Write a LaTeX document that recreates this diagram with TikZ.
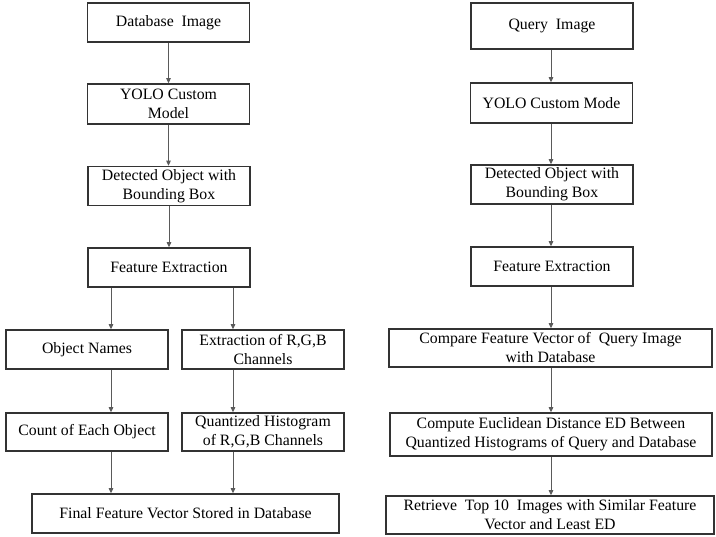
\documentclass[tikz,border=0pt]{standalone}
\usepackage{fontspec}
\setmainfont{Liberation Serif}
\usetikzlibrary{arrows.meta,calc,positioning}
\definecolor{fcInk}{HTML}{333333}
\definecolor{fcLine}{HTML}{5A5A5A}
\tikzset{
 flowchart/.style={font=\fontsize{15.8}{19}\selectfont,line join=miter,text=black},
 box/.style={rectangle,draw=fcInk,line width=1.6pt,fill=white,align=center,inner sep=2pt,
   minimum width=162pt,minimum height=39pt},
 widebox/.style={box,minimum width=323pt},
 link/.style={draw=fcLine,line width=.9pt,-{Triangle[length=5pt,width=4.5pt]}}
}

\begin{document}
\begin{tikzpicture}[flowchart,x=1pt,y=-1pt]
 \useasboundingbox (0,0) rectangle (716,537);
 \begin{scope}
  \node[box] (dbImg) at (168.5,22.5) {Database~ Image};
  \node[box,minimum height=40pt] (dbYolo) at (168.5,104) {YOLO Custom\\Model};
  \node[box] (dbDet) at (169,186) {Detected Object with\\Bounding Box};
  \node[box] (dbFeat) at (169,267.5) {Feature Extraction};
  \node[box] (dbNames) at (87,349.5) {Object Names};
  \node[box] (dbRgb) at (263,349.5) {Extraction of R,G,B\\Channels};
  \node[box,minimum height=38pt] (dbCount) at (87,432) {Count of Each Object};
  \node[box,minimum height=38pt] (dbHist) at (263,432) {Quantized Histogram\\of R,G,B Channels};
  \node[box,minimum width=307pt] (dbFinal) at (185.5,513.5) {Final Feature Vector Stored in Database};
  \coordinate (laneL) at (111,0);
  \coordinate (laneR) at (233,0);
  \draw[link] (dbImg.south) -- (dbImg.south |- dbYolo.north);
  \draw[link] (dbYolo.south) -- (dbYolo.south |- dbDet.north);
  \draw[link] (dbDet.south) -- (dbDet.south |- dbFeat.north);
  \draw[link] (dbFeat.south -| laneL) -- (dbNames.north -| laneL);
  \draw[link] (dbFeat.south -| laneR) -- (dbRgb.north -| laneR);
  \draw[link] (dbNames.south -| laneL) -- (dbCount.north -| laneL);
  \draw[link] (dbRgb.south -| laneR) -- (dbHist.north -| laneR);
  \draw[link] (dbCount.south -| laneL) -- (dbFinal.north -| laneL);
  \draw[link] (dbHist.south -| laneR) -- (dbFinal.north -| laneR);
 \end{scope}
 \begin{scope}
  \node[box,minimum height=46pt] (qImg) at (552,26) {Query~ Image};
  \node[box,minimum height=40pt] (qYolo) at (551.5,103) {YOLO Custom Mode};
  \node[box] (qDet) at (552,184.5) {Detected Object with\\Bounding Box};
  \node[box] (qFeat) at (552,266.5) {Feature Extraction};
  \node[widebox,minimum height=38pt] (qComp) at (550.5,348) {Compare Feature Vector of~ Query Image\\with Database};
  \node[widebox,minimum width=322pt,minimum height=43pt] (qDist) at (551,434.5)
   {Compute Euclidean Distance ED Between\\Quantized Histograms of Query and Database};
  \node[widebox,minimum width=328pt,minimum height=38pt] (qTop) at (550,515)
   {Retrieve~ Top 10~ Images with Similar Feature\\Vector and Least ED};
  \coordinate (laneQ) at (551,0);
  \draw[link] (qImg.south -| laneQ) -- (qYolo.north -| laneQ);
  \draw[link] (qYolo.south -| laneQ) -- (qDet.north -| laneQ);
  \draw[link] (qDet.south -| laneQ) -- (qFeat.north -| laneQ);
  \draw[link] (qFeat.south -| laneQ) -- (qComp.north -| laneQ);
  \draw[link] (qComp.south -| laneQ) -- (qDist.north -| laneQ);
  \draw[link] (qDist.south -| laneQ) -- (qTop.north -| laneQ);
 \end{scope}
\end{tikzpicture}
\end{document}
